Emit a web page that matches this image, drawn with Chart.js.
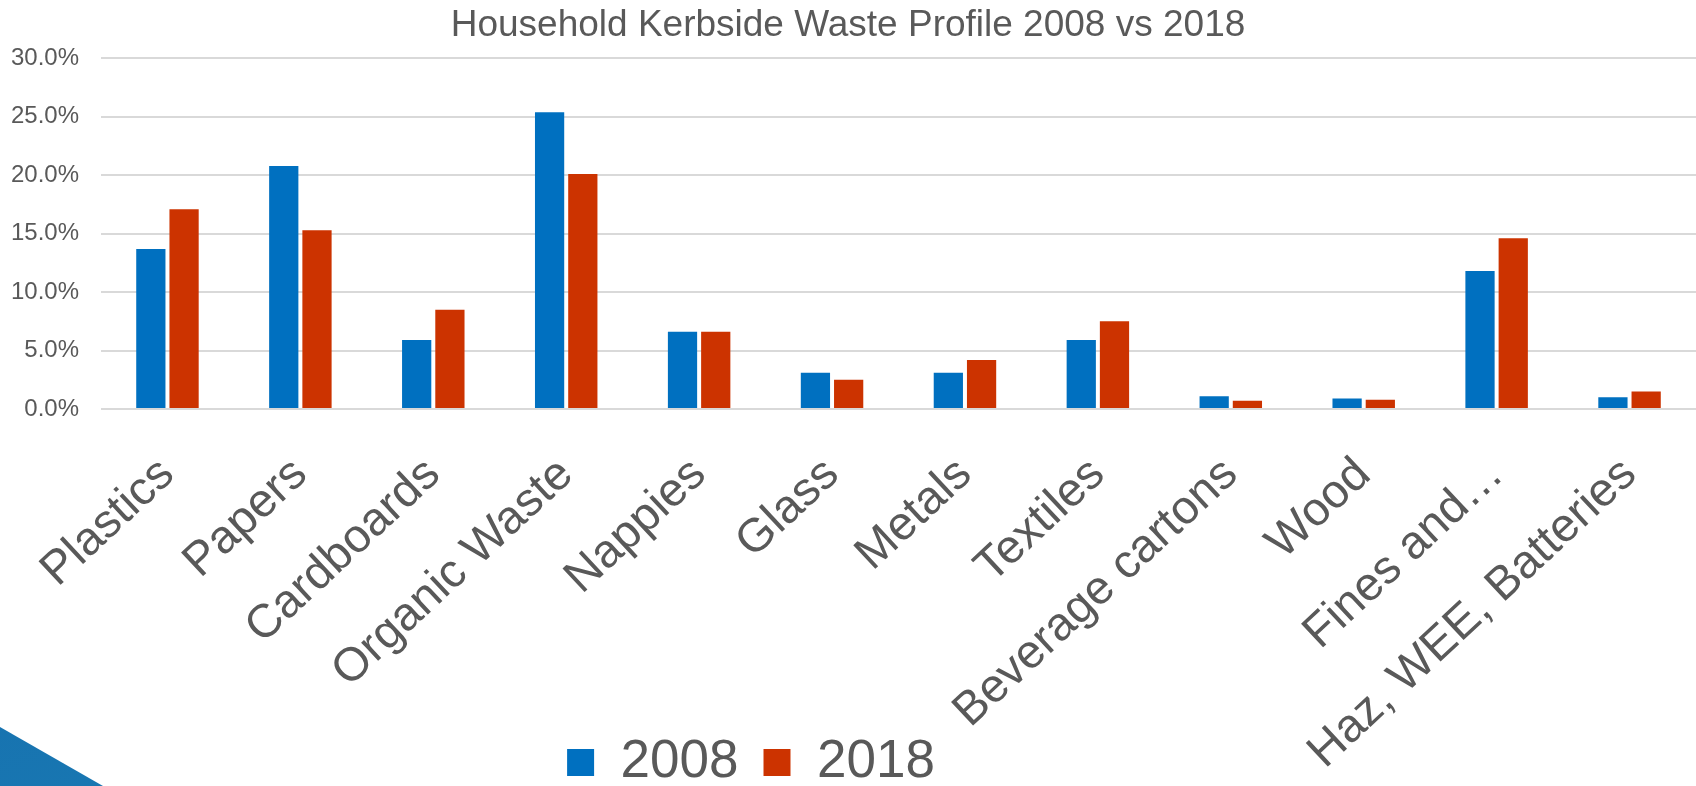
<!DOCTYPE html>
<html>
<head>
<meta charset="utf-8">
<title>Household Kerbside Waste Profile 2008 vs 2018</title>
<script src="https://cdn.jsdelivr.net/npm/chart.js@4"></script>
<style>
  html, body { margin: 0; padding: 0; background: #fff; }
  #wrap { position: relative; width: 1696px; height: 786px; overflow: hidden; }
  /* coin bleu en bas à gauche (décor de la diapo) */
  #corner {
    position: absolute; left: 0; top: 0; width: 1696px; height: 786px;
    background: linear-gradient(160deg, #1560a8 0%, #1a86b8 100%);
    clip-path: polygon(0 727px, 103px 786px, 0 786px);
  }
  canvas { position: absolute; left: 0; top: 0; }
</style>
</head>
<body>
<div id="wrap">
  <div id="corner"></div>
  <canvas id="wasteChart" width="1696" height="786"></canvas>
</div>
<script>
// --- Données ---
const categories = ['Plastics', 'Papers', 'Cardboards', 'Organic Waste', 'Nappies', 'Glass',
  'Metals', 'Textiles', 'Beverage cartons', 'Wood', 'Fines and…', 'Haz, WEE, Batteries'];
const values2008 = [13.7, 20.8, 5.9, 25.4, 6.6, 3.1, 3.1, 5.9, 1.1, 0.9, 11.8, 1.0];
const values2018 = [17.1, 15.3, 8.5, 20.1, 6.6, 2.5, 4.2, 7.5, 0.7, 0.8, 14.6, 1.5];
const yTicks = [0, 5, 10, 15, 20, 25, 30];

const FONT = '"Liberation Sans", Arial, sans-serif';
const GREY = '#595959';

// Décale la légende (elle n'est pas centrée dans l'original)
// et laisse les étiquettes de l'axe X déborder jusqu'en bas du canvas
const layoutTweaks = {
  id: 'layoutTweaks',
  afterLayout(chart) {
    const lg = chart.legend;
    lg.left -= 97; lg.right -= 97;
    lg.top += 13; lg.bottom += 13;
    chart.scales.x.bottom = chart.height;
  }
};

new Chart(document.getElementById('wasteChart'), {
  type: 'bar',
  data: {
    labels: categories,
    datasets: [
      { label: '2008', data: values2008, backgroundColor: '#0070C0' },
      { label: '2018', data: values2018, backgroundColor: '#CC3300' }
    ]
  },
  options: {
    responsive: false,
    animation: false,
    categoryPercentage: 0.5,
    barPercentage: 0.88,
    plugins: {
      title: {
        display: true,
        text: 'Household Kerbside Waste Profile 2008 vs 2018',
        color: GREY,
        font: { family: FONT, size: 37, weight: 'normal' },
        padding: { top: 4, bottom: 10 }
      },
      legend: {
        position: 'bottom',
        labels: {
          color: GREY,
          font: { family: FONT, size: 53 },
          boxWidth: 27,
          boxHeight: 27,
          padding: 25
        }
      },
      tooltip: { enabled: false }
    },
    scales: {
      x: {
        grid: { display: false, drawTicks: false },
        border: { display: false },
        ticks: {
          color: GREY,
          font: { family: FONT, size: 47 },
          minRotation: 43,
          maxRotation: 43,
          autoSkip: false,
          padding: 38
        },
        afterFit(scale) {
          scale.height = scale.chart.height - 409 - scale.chart.legend.height;
          scale.paddingRight = 0;
        }
      },
      y: {
        min: 0,
        max: 30,
        afterBuildTicks(scale) {
          scale.ticks = yTicks.map(v => ({ value: v }));
        },
        grid: { color: '#d9d9d9', lineWidth: 2, drawTicks: false },
        border: { display: false },
        ticks: {
          color: GREY,
          font: { family: FONT, size: 24 },
          padding: 22,
          callback: v => v.toFixed(1) + '%'
        },
        afterFit(scale) { scale.width = 101; }
      }
    }
  },
  plugins: [layoutTweaks]
});
</script>
</body>
</html>
